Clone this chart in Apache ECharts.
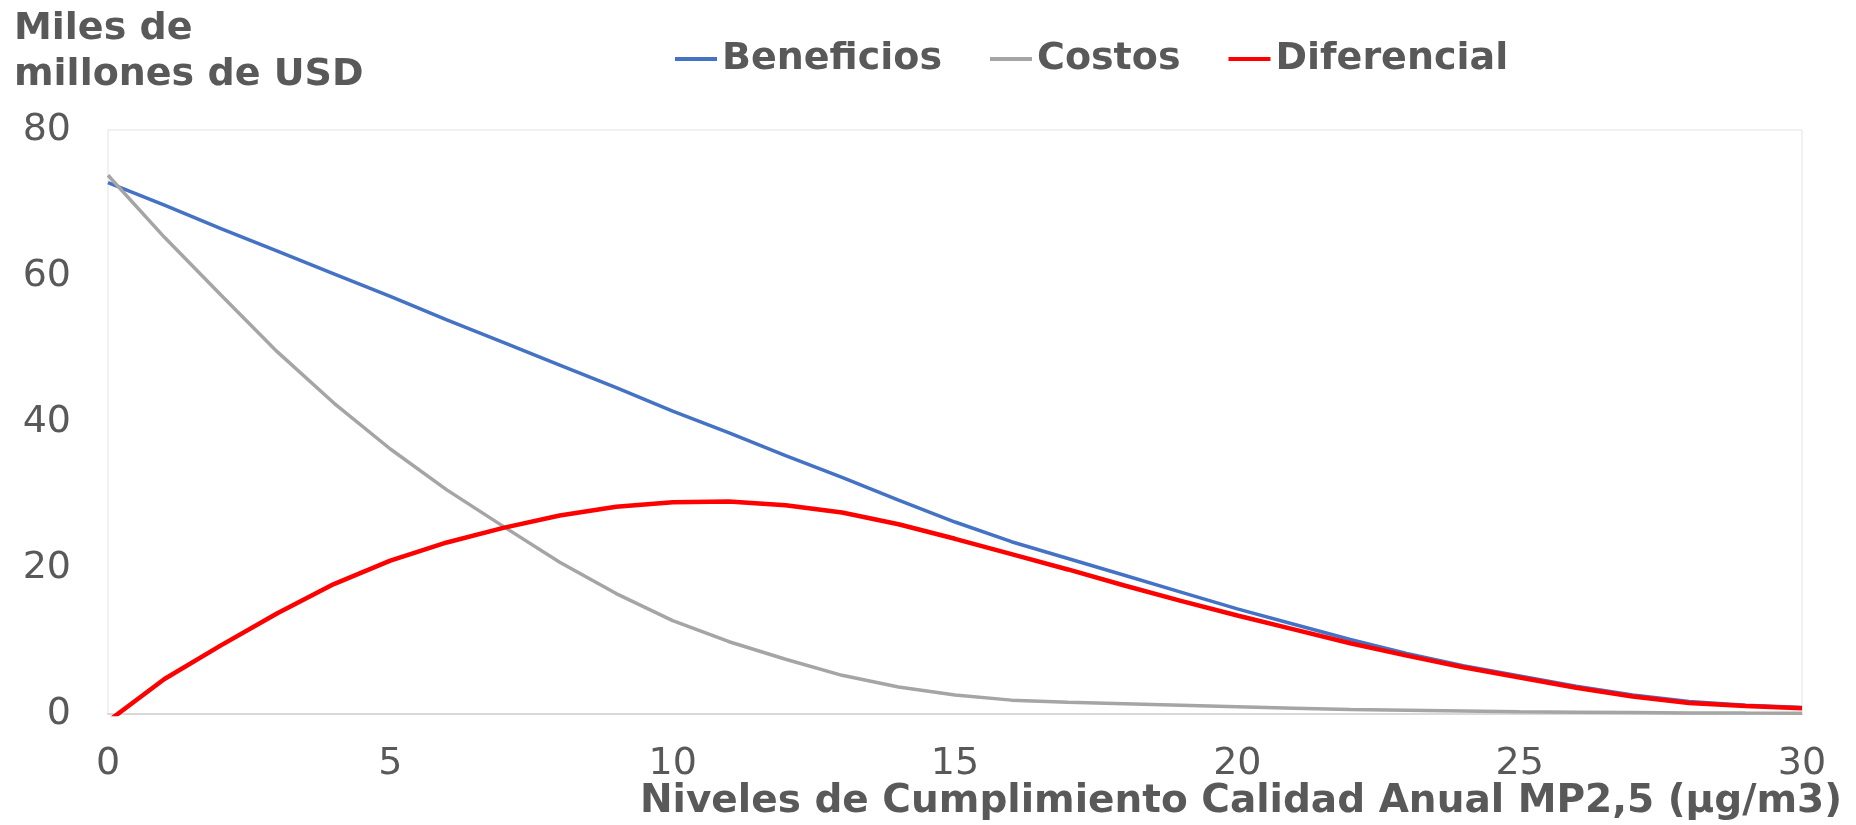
<!DOCTYPE html>
<html>
<head>
<meta charset="utf-8">
<script src="https://cdn.jsdelivr.net/npm/echarts@6/dist/echarts.min.js"></script>
<style>
  html, body { margin: 0; padding: 0; background: #fff; }
  #main { width: 1856px; height: 825px; }
</style>
</head>
<body>
<div id="main"></div>
<script>
// niveles de cumplimiento (µg/m3)
const niveles = [0, 1, 2, 3, 4, 5, 6, 7, 8, 9, 10, 11, 12, 13, 14, 15, 16, 17, 18, 19, 20, 21, 22, 23, 24, 25, 26, 27, 28, 29, 30]
// miles de millones de USD
const beneficios = [72.8, 69.7, 66.5, 63.4, 60.3, 57.2, 54.0, 50.9, 47.8, 44.7, 41.5, 38.5, 35.4, 32.4, 29.3, 26.3, 23.6, 21.3, 19.0, 16.7, 14.4, 12.3, 10.2, 8.3, 6.6, 5.2, 3.8, 2.6, 1.7, 1.2, 0.9]
const costos = [73.8, 65.3, 57.4, 49.6, 42.6, 36.3, 30.7, 25.7, 20.8, 16.5, 12.8, 9.9, 7.5, 5.3, 3.7, 2.6, 1.9, 1.6, 1.4, 1.2, 1.0, 0.8, 0.6, 0.5, 0.4, 0.3, 0.25, 0.2, 0.15, 0.12, 0.1]
const diferencial = [-1.0, 4.8, 9.4, 13.8, 17.8, 21.0, 23.5, 25.5, 27.2, 28.4, 29.0, 29.1, 28.6, 27.6, 26.0, 24.0, 21.9, 19.8, 17.6, 15.5, 13.5, 11.6, 9.7, 8.0, 6.4, 5.0, 3.6, 2.4, 1.5, 1.1, 0.8]
const yTicks = [0, 20, 40, 60, 80]
const xTicks = [0, 5, 10, 15, 20, 25, 30]

const FONT = 'DejaVu Sans, Verdana, sans-serif'
const GRIS = '#595959'

function pares(ys) {
  return niveles.map((x, i) => [x, ys[i]])
}

const myChart = echarts.init(document.getElementById('main'))

const option = {
  animation: false,
  title: [
    {
      text: 'Miles de\nmillones de USD',
      left: 9,
      top: 1,
      textStyle: { fontFamily: FONT, fontSize: 38, fontWeight: 'bold', color: GRIS, lineHeight: 46 }
    },
    {
      text: 'Niveles de Cumplimiento Calidad Anual MP2,5 (µg/m3)',
      right: 9,
      top: 777,
      textStyle: { fontFamily: FONT, fontSize: 39, fontWeight: 'bold', color: GRIS }
    }
  ],
  legend: {
    left: 670,
    top: 33,
    icon: 'rect',
    itemWidth: 42,
    itemHeight: 4,
    itemGap: 48,
    textStyle: { fontFamily: FONT, fontSize: 38, fontWeight: 'bold', color: GRIS, lineHeight: 42 },
    data: ['Beneficios', 'Costos', 'Diferencial']
  },
  grid: {
    left: 108,
    right: 54,
    top: 130,
    bottom: 111,
    show: true,
    borderColor: '#e3e3e3',
    borderWidth: 1
  },
  xAxis: {
    type: 'value',
    min: xTicks[0],
    max: xTicks[xTicks.length - 1],
    interval: 5,
    axisLine: { show: true, lineStyle: { color: '#d9d9d9', width: 2 } },
    axisTick: { show: false },
    splitLine: { show: false },
    axisLabel: { fontFamily: FONT, fontSize: 38, color: GRIS, margin: 31 }
  },
  yAxis: {
    type: 'value',
    min: yTicks[0],
    max: yTicks[yTicks.length - 1],
    interval: 20,
    axisLine: { show: false },
    axisTick: { show: false },
    splitLine: { show: false },
    axisLabel: { fontFamily: FONT, fontSize: 38, color: GRIS, margin: 37 }
  },
  series: [
    {
      name: 'Beneficios',
      type: 'line',
      data: pares(beneficios),
      symbol: 'none',
      color: '#4472C4',
      lineStyle: { width: 3.5 }
    },
    {
      name: 'Costos',
      type: 'line',
      data: pares(costos),
      symbol: 'none',
      color: '#A5A5A5',
      lineStyle: { width: 3.5 }
    },
    {
      name: 'Diferencial',
      type: 'line',
      data: pares(diferencial),
      symbol: 'none',
      color: '#FF0000',
      lineStyle: { width: 4.5 }
    }
  ]
}

option && myChart.setOption(option)
</script>
</body>
</html>
